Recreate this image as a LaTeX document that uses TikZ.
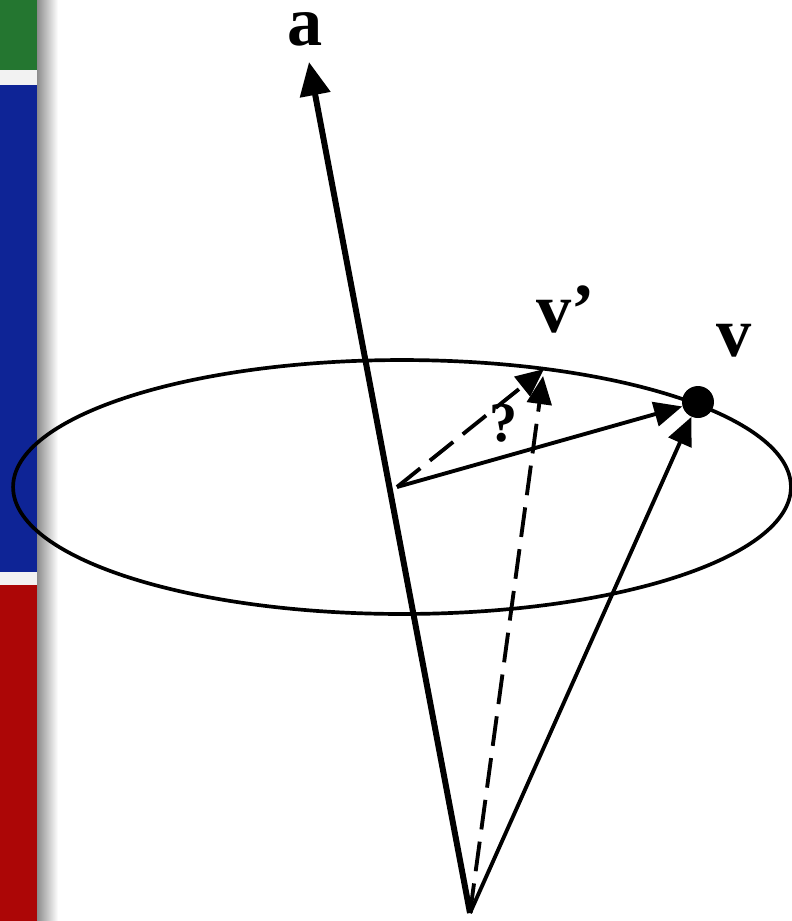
\documentclass[tikz,border=0pt]{standalone}
\usepackage{fontspec}
\setmainfont{Liberation Serif}
\usetikzlibrary{arrows.meta}
\definecolor{bargreen}{RGB}{36,118,48}
\definecolor{barblue}{RGB}{14,36,150}
\definecolor{barred}{RGB}{172,6,6}

\begin{document}
\begin{tikzpicture}[x=0.02cm,y=-0.02cm,axis/.style={-{Triangle[length=19pt,width=17pt]},line width=3.4pt},vec/.style={-{Triangle[length=16pt,width=14pt]},line width=2.2pt},dashvec/.style={vec,dash pattern=on 17pt off 7pt},dot/.style={circle,fill=black,inner sep=0pt,minimum size=0.64cm},lbl/.style={font=\fontsize{40}{40}\selectfont\bfseries,inner sep=0pt}]
\useasboundingbox (0,0) rectangle (792,921);
% side bars
\shade[left color=black!45,right color=white] (37,0) rectangle (58,921);
\fill[black!5] (0,70) rectangle (37,85);
\fill[black!5] (0,572) rectangle (37,585);
\fill[bargreen] (0,0) rectangle (37,70);
\fill[barblue] (0,85) rectangle (37,572);
\fill[barred] (0,585) rectangle (37,921);
% orbit
\draw[line width=2.1pt] (402,487) ellipse [x radius=7.78cm,y radius=2.54cm];
\coordinate (o) at (397,487);
\coordinate (base) at (470,913);
\coordinate (top) at (309,62);
\coordinate (vp) at (544,369);
\node[dot] (v) at (698,402) {};
\node[lbl] (la) at (305,29) {a};
\node[lbl] (lvp) at (566,309) {v’};
\node[lbl] (lv) at (734,341) {v};
\node[font=\fontsize{32}{32}\selectfont\bfseries,inner sep=0pt] (q) at (504,423) {?};
\draw[axis] (base) -- (top);
\draw[vec] (o) -- (v);
\draw[vec] (base) -- (v);
\draw[dashvec] (o) -- (vp);
\draw[dashvec,shorten >=4pt] (base) -- (vp);
\end{tikzpicture}
\end{document}
